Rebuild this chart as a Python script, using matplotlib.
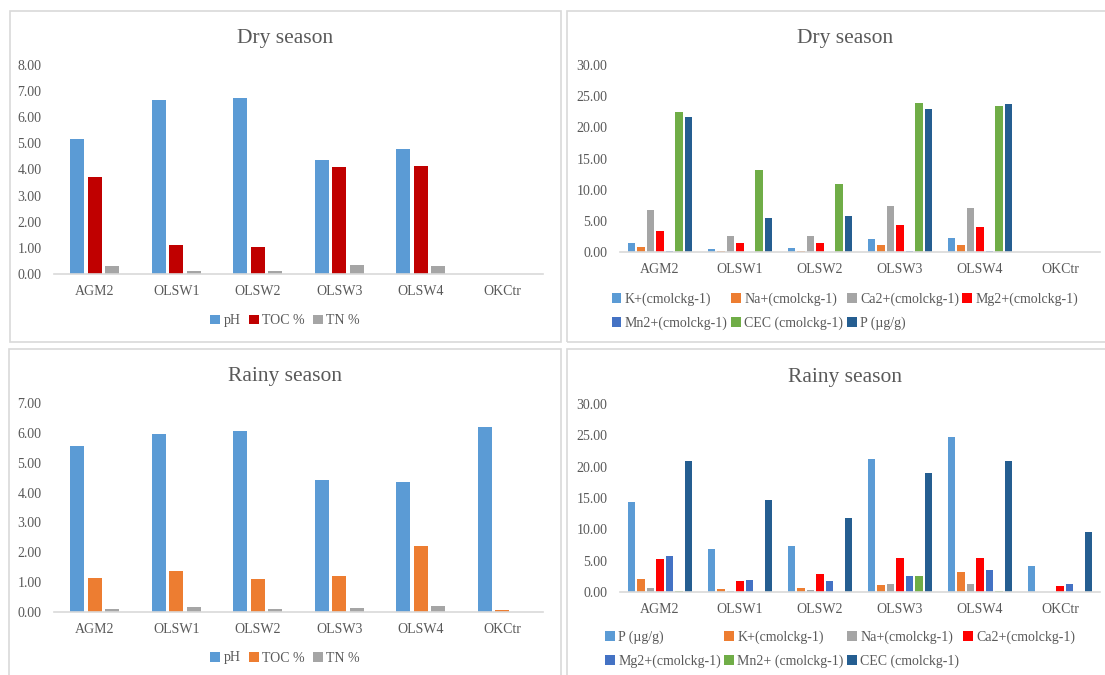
import numpy as np
import matplotlib
matplotlib.use('Agg')
import matplotlib.pyplot as plt
from matplotlib.patches import Rectangle

plt.rcParams['font.family'] = ['Liberation Serif', 'DejaVu Serif']

sites = ['AGM2', 'OLSW1', 'OLSW2', 'OLSW3', 'OLSW4', 'OKCtr']

# dry season - pH / TOC / TN
dry_ph = [5.15, 6.67, 6.72, 4.38, 4.80, 0]
dry_toc = [3.72, 1.10, 1.05, 4.10, 4.13, 0]
dry_tn = [0.30, 0.12, 0.12, 0.36, 0.30, 0]

# rainy season - pH / TOC / TN
rainy_ph = [5.57, 5.96, 6.07, 4.42, 4.35, 6.19]
rainy_toc = [1.14, 1.37, 1.12, 1.19, 2.22, 0.06]
rainy_tn = [0.09, 0.16, 0.09, 0.13, 0.19, 0.0]

# dry season - cations, CEC, P
dry_k = [1.44, 0.55, 0.69, 2.08, 2.19, 0]
dry_na = [0.80, 0.20, 0.20, 1.17, 1.17, 0]
dry_ca = [6.78, 2.50, 2.50, 7.37, 7.05, 0]
dry_mg = [3.42, 1.50, 1.50, 4.27, 4.06, 0]
dry_mn = [0.20, 0.05, 0.05, 0.20, 0.20, 0]
dry_cec = [22.42, 13.19, 10.84, 23.87, 23.44, 0]
dry_p = [21.62, 5.39, 5.71, 22.90, 23.76, 0]

# rainy season - P, cations, CEC
rainy_p = [14.44, 6.84, 7.38, 21.23, 24.70, 4.17]
rainy_k = [2.03, 0.53, 0.70, 1.12, 3.16, 0]
rainy_na = [0.64, 0.15, 0.30, 1.23, 1.23, 0]
rainy_ca = [5.29, 1.76, 2.89, 5.45, 5.45, 0.91]
rainy_mg = [5.67, 1.93, 1.76, 2.57, 3.58, 1.23]
rainy_mn = [0.20, 0, 0, 2.57, 0.20, 0]
rainy_cec = [20.86, 14.76, 11.87, 18.98, 20.96, 9.52]

W, H = 1105, 675
txt = '#595959'
line = '#D9D9D9'

fig = plt.figure(figsize=(W / 100, H / 100), dpi=100)


def px_box(x0, y0, x1, y1):  # pixel coords (top-left origin) -> figure fraction rect
    return [x0 / W, 1 - y1 / H, (x1 - x0) / W, (y1 - y0) / H]


def draw_panel(rect, title, title_xy, series, labels, colors, step, width,
               ymax, ystep, legend_xy, ncol, order, colsp):
    ax = fig.add_axes(px_box(*rect))
    x = np.arange(len(sites))
    n = len(series)
    bars = []
    for i, (vals, c) in enumerate(zip(series, colors)):
        b = ax.bar(x + (i - (n - 1) / 2) * step, vals, width, color=c, label=labels[i])
        bars.append(b)
    ax.set_xlim(-0.5, len(sites) - 0.5)
    ax.set_ylim(0, ymax)
    ax.set_yticks(np.arange(0, ymax + 0.001, ystep))
    ax.set_yticklabels(['%.2f' % v for v in np.arange(0, ymax + 0.001, ystep)])
    ax.set_xticks(x)
    ax.set_xticklabels(sites)
    ax.tick_params(axis='both', length=0, colors=txt, labelsize=10)
    ax.tick_params(axis='y', pad=9)
    ax.tick_params(axis='x', pad=8)
    for s in ['top', 'right', 'left']:
        ax.spines[s].set_visible(False)
    ax.spines['bottom'].set_color(line)
    ax.spines['bottom'].set_linewidth(1.2)
    ax.set_facecolor('none')
    fig.text(title_xy[0] / W, 1 - title_xy[1] / H, title, ha='center', va='baseline',
             fontsize=15.5, color=txt)
    # legend handles reordered so that matplotlib's column filling reads row by row
    h = [bars[k] for k in order]
    lab = [labels[k] for k in order]
    fig.legend(h, lab, loc='center', bbox_to_anchor=(legend_xy[0] / W, 1 - legend_xy[1] / H),
               ncol=ncol, frameon=False, fontsize=10, labelcolor=txt,
               handlelength=0.7, handleheight=0.7, handletextpad=0.25,
               columnspacing=colsp, borderpad=0, labelspacing=0.75)


# panel frames
for bx in [(10, 11, 561, 342), (567, 11, 1125, 342), (9, 349, 561, 690), (567, 349, 1125, 690)]:
    fig.patches.append(Rectangle((bx[0] / W, 1 - bx[3] / H), (bx[2] - bx[0]) / W, (bx[3] - bx[1]) / H,
                                 transform=fig.transFigure, fill=False, edgecolor=line, linewidth=1.2))

c3_dry = ['#5B9BD5', '#C00000', '#A5A5A5']
c3_rainy = ['#5B9BD5', '#ED7D31', '#A5A5A5']
c7 = ['#5B9BD5', '#ED7D31', '#A5A5A5', '#FF0000', '#4472C4', '#70AD47', '#255E91']

draw_panel((54, 65, 543, 274), 'Dry season', (285, 43),
           [dry_ph, dry_toc, dry_tn], ['pH', 'TOC %', 'TN %'], c3_dry,
           0.215, 0.17, 8, 1, (285, 321), 3, [0, 1, 2], 0.6)

draw_panel((54, 403, 543, 612), 'Rainy season', (285, 381),
           [rainy_ph, rainy_toc, rainy_tn], ['pH', 'TOC %', 'TN %'], c3_rainy,
           0.215, 0.17, 7, 1, (285, 658), 3, [0, 1, 2], 0.6)

draw_panel((620, 65, 1100, 252), 'Dry season', (845, 43),
           [dry_k, dry_na, dry_ca, dry_mg, dry_mn, dry_cec, dry_p],
           ['K+(cmolckg-1)', 'Na+(cmolckg-1)', 'Ca2+(cmolckg-1)', 'Mg2+(cmolckg-1)',
            'Mn2+(cmolckg-1)', 'CEC (cmolckg-1)', 'P (µg/g)'], c7,
           0.119, 0.094, 30, 5, (845, 311), 4, [0, 4, 1, 5, 2, 6, 3], 0.25)

draw_panel((620, 404, 1100, 592), 'Rainy season', (845, 382),
           [rainy_p, rainy_k, rainy_na, rainy_ca, rainy_mg, rainy_mn, rainy_cec],
           ['P (µg/g)', 'K+(cmolckg-1)', 'Na+(cmolckg-1)', 'Ca2+(cmolckg-1)',
            'Mg2+(cmolckg-1)', 'Mn2+ (cmolckg-1)', 'CEC (cmolckg-1)'], c7,
           0.119, 0.094, 30, 5, (840, 649), 4, [0, 4, 1, 5, 2, 6, 3], 0.25)

fig.savefig('out.png', dpi=100, facecolor='white')
